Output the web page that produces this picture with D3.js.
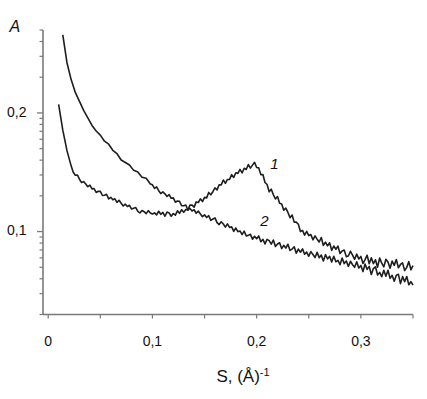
<!DOCTYPE html>
<html>
<head>
<meta charset="utf-8">
<script src="https://cdn.jsdelivr.net/npm/d3@7"></script>
<style>
  body { margin: 0; background: #fff; }
  svg { display: block; }
  text { font-family: Arial, "Liberation Sans", sans-serif; fill: #111; }
</style>
</head>
<body>
<svg id="chart" width="427" height="399"></svg>
<script>
// Scattering curves 1 and 2, log intensity axis

// curve 1: S values and intensities
const s1 = [0.010, 0.014, 0.018, 0.022,
  0.024, 0.026, 0.028, 0.030, 0.032, 0.034, 0.036, 0.038, 0.040, 0.042,
  0.044, 0.046, 0.048, 0.050, 0.052, 0.054, 0.056, 0.058, 0.060, 0.062,
  0.064, 0.066, 0.068, 0.070, 0.072, 0.074, 0.076, 0.078, 0.080, 0.082,
  0.084, 0.086, 0.088, 0.090, 0.092, 0.094, 0.096, 0.098,
  0.100, 0.102, 0.104, 0.106, 0.108, 0.110, 0.112, 0.114, 0.116, 0.118,
  0.120, 0.122, 0.124, 0.126, 0.128, 0.130, 0.132, 0.134, 0.136, 0.138,
  0.140, 0.142, 0.144, 0.146, 0.148, 0.150, 0.152, 0.154, 0.156, 0.158,
  0.160, 0.162, 0.164, 0.166, 0.168, 0.170, 0.172, 0.174, 0.176, 0.178,
  0.180, 0.182, 0.184, 0.186, 0.188, 0.190, 0.192, 0.194, 0.196, 0.198,
  0.200, 0.202, 0.204, 0.206, 0.208, 0.210, 0.212, 0.214, 0.216, 0.218,
  0.220, 0.222, 0.224, 0.226, 0.228, 0.230, 0.232, 0.234, 0.236, 0.238,
  0.240, 0.242, 0.244, 0.246, 0.248, 0.250, 0.252, 0.254, 0.256, 0.258,
  0.260, 0.262, 0.264, 0.266, 0.268, 0.270, 0.272, 0.274, 0.276, 0.278,
  0.280, 0.282, 0.284, 0.286, 0.288, 0.290, 0.292, 0.294, 0.296, 0.298,
  0.300, 0.302, 0.304, 0.306, 0.308, 0.310, 0.312, 0.314, 0.316, 0.318,
  0.320, 0.322, 0.324, 0.326, 0.328, 0.330, 0.332, 0.334, 0.336, 0.338,
  0.340, 0.342, 0.344, 0.346, 0.348, 0.350];
const a1 = [1.18, 0.716, 0.481, 0.358,
  0.3160, 0.2988, 0.3001, 0.2762, 0.2588, 0.2636, 0.2521, 0.2389, 0.2460, 0.2290,
  0.2305, 0.2136, 0.2187, 0.2182, 0.2014, 0.2024, 0.2062, 0.1884, 0.1943, 0.1852,
  0.1889, 0.1764, 0.1837, 0.1734, 0.1643, 0.1702, 0.1626, 0.1666, 0.1548, 0.1571,
  0.1592, 0.1483, 0.1434, 0.1505, 0.1471, 0.1416, 0.1501, 0.1435,
  0.1406, 0.1439, 0.1382, 0.1483, 0.1398, 0.1452, 0.1346, 0.1459, 0.1437, 0.1346,
  0.1419, 0.1374, 0.1496, 0.1426, 0.1528, 0.1452, 0.1535, 0.1517, 0.1671, 0.1671,
  0.1607, 0.1778, 0.1758, 0.1888, 0.1791, 0.1941, 0.1923, 0.2138, 0.2041, 0.2167,
  0.2335, 0.2245, 0.2483, 0.2474, 0.2723, 0.2547, 0.2749, 0.2756, 0.3018, 0.2861,
  0.3134, 0.3094, 0.3339, 0.3119, 0.3418, 0.3334, 0.3673, 0.3423, 0.3631, 0.3832,
  0.3469, 0.3443, 0.3020, 0.3023, 0.2591, 0.2491, 0.2163, 0.2275, 0.2049, 0.1882,
  0.1972, 0.1730, 0.1708, 0.1515, 0.1579, 0.1450, 0.1309, 0.1380, 0.1201, 0.1202,
  0.1153, 0.1000, 0.1023, 0.0934, 0.1003, 0.0925, 0.0943, 0.0852, 0.0920, 0.0863,
  0.0817, 0.0891, 0.0764, 0.0814, 0.0757, 0.0804, 0.0695, 0.0756, 0.0709, 0.0754,
  0.0654, 0.0686, 0.0698, 0.0615, 0.0622, 0.0682, 0.0633, 0.0584, 0.0645, 0.0588,
  0.0617, 0.0538, 0.0581, 0.0632, 0.0535, 0.0602, 0.0537, 0.0578, 0.0501, 0.0599,
  0.0542, 0.0504, 0.0584, 0.0554, 0.0490, 0.0564, 0.0519, 0.0581, 0.0495, 0.0528,
  0.0545, 0.0469, 0.0499, 0.0558, 0.0476, 0.0517];

// curve 2: S values and intensities
const s2 = [0.014, 0.018, 0.022, 0.026, 0.030, 0.034, 0.038, 0.042, 0.046, 0.050,
  0.054, 0.058, 0.062, 0.066, 0.070, 0.074, 0.078, 0.082, 0.086, 0.090,
  0.094, 0.098,
  0.100, 0.102, 0.104, 0.106, 0.108, 0.110, 0.112, 0.114, 0.116, 0.118,
  0.120, 0.122, 0.124, 0.126, 0.128, 0.130, 0.132, 0.134, 0.136, 0.138,
  0.140, 0.142, 0.144, 0.146, 0.148, 0.150, 0.152, 0.154, 0.156, 0.158,
  0.160, 0.162, 0.164, 0.166, 0.168, 0.170, 0.172, 0.174, 0.176, 0.178,
  0.180, 0.182, 0.184, 0.186, 0.188, 0.190, 0.192, 0.194, 0.196, 0.198,
  0.200, 0.202, 0.204, 0.206, 0.208, 0.210, 0.212, 0.214, 0.216, 0.218,
  0.220, 0.222, 0.224, 0.226, 0.228, 0.230, 0.232, 0.234, 0.236, 0.238,
  0.240, 0.242, 0.244, 0.246, 0.248, 0.250, 0.252, 0.254, 0.256, 0.258,
  0.260, 0.262, 0.264, 0.266, 0.268, 0.270, 0.272, 0.274, 0.276, 0.278,
  0.280, 0.282, 0.284, 0.286, 0.288, 0.290, 0.292, 0.294, 0.296, 0.298,
  0.300, 0.302, 0.304, 0.306, 0.308, 0.310, 0.312, 0.314, 0.316, 0.318,
  0.320, 0.322, 0.324, 0.326, 0.328, 0.330, 0.332, 0.334, 0.336, 0.338,
  0.340, 0.342, 0.344, 0.346, 0.348, 0.350];
const a2 = [4.54, 2.65, 1.91, 1.49, 1.25, 1.05, 0.910, 0.785, 0.705, 0.650,
  0.578, 0.545, 0.484, 0.453, 0.401, 0.382, 0.364, 0.328, 0.318, 0.287,
  0.281, 0.252,
  0.248, 0.231, 0.238, 0.221, 0.209, 0.2165, 0.208, 0.1976, 0.205, 0.1908,
  0.1924, 0.1769, 0.1808, 0.1798, 0.1650, 0.1653, 0.1676, 0.1521, 0.1566, 0.1490,
  0.1527, 0.1425, 0.1489, 0.1409, 0.1335, 0.1385, 0.1314, 0.1361, 0.1243, 0.1277,
  0.1303, 0.1190, 0.1146, 0.1210, 0.1159, 0.1089, 0.1161, 0.1083, 0.1095, 0.1005,
  0.1071, 0.0997, 0.1012, 0.0942, 0.1009, 0.0919, 0.0929, 0.0948, 0.0863, 0.0913,
  0.0871, 0.0919, 0.0822, 0.0860, 0.0787, 0.0859, 0.0839, 0.0784, 0.0849, 0.0750,
  0.0785, 0.0805, 0.0719, 0.0766, 0.0725, 0.0782, 0.0694, 0.0712, 0.0744, 0.0658,
  0.0712, 0.0670, 0.0715, 0.0644, 0.0671, 0.0619, 0.0678, 0.0641, 0.0604, 0.0668,
  0.0603, 0.0633, 0.0566, 0.0639, 0.0588, 0.0618, 0.0555, 0.0619, 0.0556, 0.0572,
  0.0525, 0.0598, 0.0537, 0.0565, 0.0509, 0.0562, 0.0525, 0.0500, 0.0557, 0.0493,
  0.0518, 0.0460, 0.0532, 0.0480, 0.0509, 0.0435, 0.0488, 0.0505, 0.0430, 0.0453,
  0.0416, 0.0471, 0.0421, 0.0472, 0.0403, 0.0428, 0.0382, 0.0429, 0.0436, 0.0364,
  0.0417, 0.0378, 0.0418, 0.0356, 0.0378, 0.0354];

const xTicks = [0, 0.05, 0.1, 0.15, 0.2, 0.25, 0.3, 0.35];
const xTickLabels = ["0", "", "0,1", "", "0,2", "", "0,3", ""];
const yMajor = [0.1, 1];
const yMajorLabels = ["0,1", "0,2"];
const yMinor = [0.02, 0.03, 0.04, 0.05, 0.06, 0.07, 0.08, 0.09,
  0.2, 0.3, 0.4, 0.5, 0.6, 0.7, 0.8, 0.9, 2, 3, 4, 5];

const curveLabels = [
  { text: "1", s: 0.213, a: 0.335 },
  { text: "2", s: 0.2035, a: 0.111 }
];

const AXIS_COLOR = "#7a7a7a";
const LINE_COLOR = "#1e1e1e";

const svg = d3.select("#chart");

const x = d3.scaleLinear()
  .domain([-0.005, 0.35])
  .range([43, 413]);

const y = d3.scaleLog()
  .domain([0.02, 5])
  .range([314.5, 30]);

const x0 = x.range()[0];
const yb = y.range()[0];

// axis lines
svg.append("line")
  .attr("x1", x0).attr("y1", y.range()[1])
  .attr("x2", x0).attr("y2", yb)
  .attr("stroke", AXIS_COLOR).attr("stroke-width", 1.6);

svg.append("line")
  .attr("x1", x0).attr("y1", yb)
  .attr("x2", x.range()[1]).attr("y2", yb)
  .attr("stroke", AXIS_COLOR).attr("stroke-width", 1.6);

// y ticks (log minor + labelled decades)
yMinor.forEach(v => {
  svg.append("line")
    .attr("x1", x0 - 3.5).attr("x2", x0)
    .attr("y1", y(v)).attr("y2", y(v))
    .attr("stroke", AXIS_COLOR).attr("stroke-width", 1.2);
});
yMajor.forEach((v, i) => {
  svg.append("line")
    .attr("x1", x0 - 6).attr("x2", x0)
    .attr("y1", y(v)).attr("y2", y(v))
    .attr("stroke", AXIS_COLOR).attr("stroke-width", 1.3);
  svg.append("text")
    .attr("x", 26.5)
    .attr("y", y(v))
    .attr("text-anchor", "end")
    .attr("dominant-baseline", "middle")
    .attr("font-size", "14px")
    .text(yMajorLabels[i]);
});

// x ticks
xTicks.forEach((v, i) => {
  svg.append("line")
    .attr("x1", x(v)).attr("x2", x(v))
    .attr("y1", yb).attr("y2", yb + 4)
    .attr("stroke", AXIS_COLOR).attr("stroke-width", 1.2);
  if (xTickLabels[i]) {
    svg.append("text")
      .attr("x", x(v))
      .attr("y", 345.5)
      .attr("text-anchor", "middle")
      .attr("font-size", "14px")
      .text(xTickLabels[i]);
  }
});

// axis titles
svg.append("text")
  .attr("x", 9.5)
  .attr("y", 32)
  .attr("font-size", "16px")
  .attr("font-style", "italic")
  .text("A");

const xt = svg.append("text")
  .attr("x", 243)
  .attr("y", 382)
  .attr("text-anchor", "middle")
  .attr("font-size", "17px");
xt.append("tspan").text("S, (Å)");
xt.append("tspan").attr("dy", -6).attr("font-size", "11px").text("-1");

// curves
const line = d3.line()
  .x(d => x(d[0]))
  .y(d => y(d[1]));

[[s1, a1], [s2, a2]].forEach(([s, a]) => {
  svg.append("path")
    .datum(s.map((v, i) => [v, a[i]]))
    .attr("d", line)
    .attr("fill", "none")
    .attr("stroke", LINE_COLOR)
    .attr("stroke-width", 1.6)
    .attr("stroke-linejoin", "round");
});

curveLabels.forEach(l => {
  svg.append("text")
    .attr("x", x(l.s))
    .attr("y", y(l.a))
    .attr("font-size", "15px")
    .attr("font-style", "italic")
    .text(l.text);
});
</script>
</body>
</html>
